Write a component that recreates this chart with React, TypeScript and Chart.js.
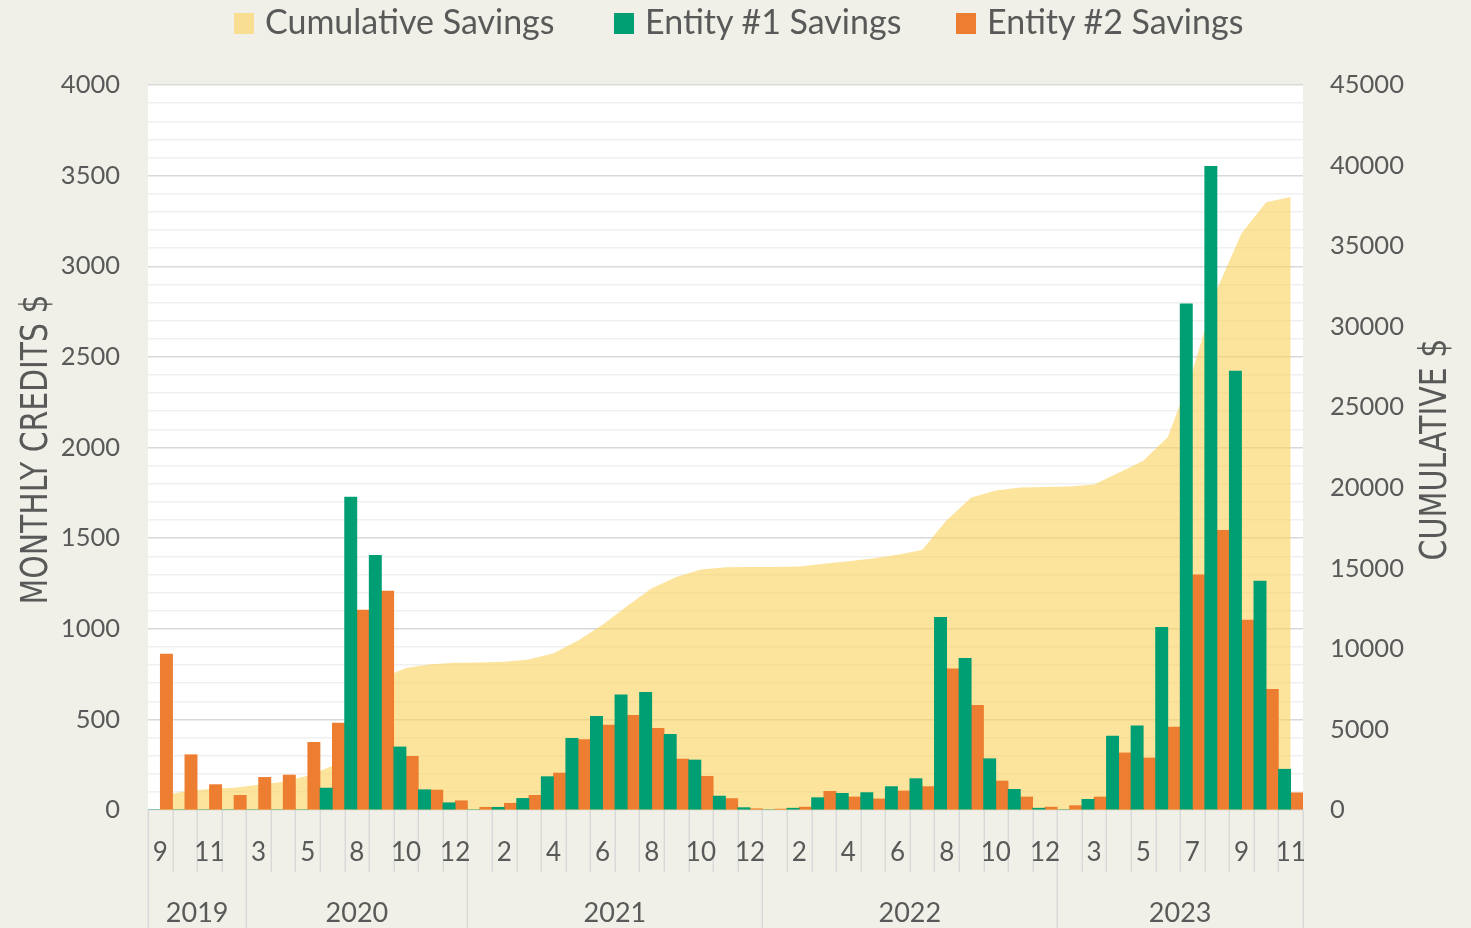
import React, { useEffect, useRef } from 'react';
import { Chart, registerables } from 'chart.js';

Chart.register(...registerables);

// ---------- DATA ----------
const monthLabels = [
  '9', '10', '11', '12',
  '3', '4', '5', '6', '8', '9', '10', '11', '12',
  '1', '2', '3', '4', '5', '6', '7', '8', '9', '10', '11', '12',
  '1', '2', '3', '4', '5', '6', '7', '8', '9', '10', '11', '12',
  '2', '3', '4', '5', '6', '7', '8', '9', '10', '11',
];

const yearLabels = ['2019', '2020', '2021', '2022', '2023'];
const yearMonthCounts = [4, 9, 12, 12, 10];

const entity1Savings = [
  0, 0, 0, 0,
  0, 0, 0, 121, 1727, 1405, 348, 112, 40,
  0, 15, 64, 184, 396, 517, 635, 649, 417, 276, 77, 13,
  0, 10, 68, 92, 96, 129, 173, 1063, 837, 283, 114, 10,
  0, 59, 408, 464, 1008, 2792, 3551, 2422, 1263, 225,
];

const entity2Savings = [
  860, 305, 140, 81,
  180, 193, 373, 480, 1103, 1208, 296, 110, 51,
  15, 37, 81, 204, 388, 469, 522, 451, 281, 186, 63, 7,
  5, 16, 103, 72, 61, 105, 129, 779, 577, 160, 72, 16,
  24, 72, 315, 287, 458, 1298, 1543, 1048, 666, 95,
];

const cumulativeSavings = [
  860, 1165, 1305, 1386,
  1566, 1759, 2132, 2733, 5563, 8176, 8820, 9042, 9133,
  9148, 9200, 9345, 9733, 10517, 11503, 12660, 13760, 14458, 14920, 15060, 15080,
  15085, 15111, 15282, 15446, 15603, 15837, 16139, 17981, 19395, 19838, 20024, 20050,
  20074, 20205, 20928, 21679, 23145, 27235, 32329, 35799, 37728, 38048,
];

const seriesNames = ['Cumulative Savings', 'Entity #1 Savings', 'Entity #2 Savings'];
const leftAxisTitle = 'MONTHLY CREDITS $';
const rightAxisTitle = 'CUMULATIVE $';

// ---------- STYLE ----------
const W = 1471;
const H = 928;
const BG = '#F0F0E8';
const TEXT = '#595959';
const GREEN = '#009E73';
const ORANGE = '#ED7D31';
const AREA = 'rgba(252, 210, 90, 0.6)';
const TICK_FONT = 'Lato, "Open Sans", sans-serif';
const TITLE_FONT = '"Liberation Sans Narrow", "DejaVu Sans Condensed", sans-serif';

const decorPlugin = {
  id: 'decor',
  beforeDraw(chart: any) {
    const { ctx, chartArea } = chart;
    ctx.save();
    ctx.fillStyle = '#FFFFFF';
    ctx.fillRect(chartArea.left, chartArea.top, chartArea.right - chartArea.left, chartArea.bottom - chartArea.top);
    ctx.restore();
  },
  afterDraw(chart: any) {
    const { ctx, chartArea } = chart;
    const x = chart.scales.x;
    const y0 = chartArea.bottom;
    const n = monthLabels.length;
    ctx.save();
    const yearBounds = new Set<number>();
    let acc = 0;
    yearBounds.add(0);
    yearMonthCounts.forEach((c) => { acc += c; yearBounds.add(acc); });
    ctx.strokeStyle = '#D9D9D9';
    ctx.lineWidth = 1.5;
    for (let i = 0; i <= n; i++) {
      const px = Math.round(x.getPixelForValue(i - 0.5)) + 0.25;
      ctx.beginPath();
      ctx.moveTo(px, y0);
      ctx.lineTo(px, yearBounds.has(i) ? H : y0 + 62);
      ctx.stroke();
    }
    // month labels
    ctx.fillStyle = TEXT;
    ctx.font = `26px ${TICK_FONT}`;
    ctx.textAlign = 'center';
    ctx.textBaseline = 'middle';
    monthLabels.forEach((m, i) => {
      if (i % 2 === 0) ctx.fillText(m, x.getPixelForValue(i), y0 + 43);
    });
    // year labels
    ctx.font = `27px ${TICK_FONT}`;
    let start = 0;
    yearLabels.forEach((yl, k) => {
      const end = start + yearMonthCounts[k];
      const a = x.getPixelForValue(start - 0.5);
      const b = x.getPixelForValue(end - 0.5);
      ctx.fillText(yl, (a + b) / 2, y0 + 103);
      start = end;
    });
    // axis titles (condensed)
    ctx.font = `37px ${TITLE_FONT}`;
    ctx.textBaseline = 'alphabetic';
    const midY = (chartArea.top + chartArea.bottom) / 2;
    const drawTitle = (text: string, cx: number, cy: number, targetLen: number) => {
      const w = ctx.measureText(text).width;
      const sx = Math.min(1, targetLen / w);
      ctx.save();
      ctx.translate(cx, cy);
      ctx.rotate(-Math.PI / 2);
      ctx.scale(sx, 1);
      ctx.fillText(text, 0, 0);
      ctx.restore();
    };
    drawTitle(leftAxisTitle, 47, midY + 2, 310);
    drawTitle(rightAxisTitle, 1446, midY + 2, 222);
    ctx.restore();
  },
};

export default function App() {
  const canvasRef = useRef<HTMLCanvasElement | null>(null);

  useEffect(() => {
    document.body.style.margin = '0';
    const canvas = canvasRef.current;
    if (!canvas) return;
    const chart = new Chart(canvas, {
      data: {
        labels: monthLabels,
        datasets: [
          {
            type: 'line',
            label: seriesNames[0],
            data: cumulativeSavings,
            yAxisID: 'y1',
            fill: 'origin',
            backgroundColor: AREA,
            borderColor: 'rgba(0,0,0,0)',
            borderWidth: 0,
            pointRadius: 0,
            tension: 0,
            order: 2,
          },
          {
            type: 'bar',
            label: seriesNames[1],
            data: entity1Savings,
            yAxisID: 'y',
            backgroundColor: GREEN,
            categoryPercentage: 1,
            barPercentage: 1,
            order: 1,
          },
          {
            type: 'bar',
            label: seriesNames[2],
            data: entity2Savings,
            yAxisID: 'y',
            backgroundColor: ORANGE,
            categoryPercentage: 1,
            barPercentage: 1,
            order: 1,
          },
        ],
      } as any,
      options: {
        responsive: false,
        animation: false,
        devicePixelRatio: 1,
        layout: { padding: { top: 85, left: 0, right: 0, bottom: 0 } },
        plugins: { legend: { display: false }, tooltip: { enabled: false } },
        scales: {
          x: {
            type: 'category',
            offset: true,
            ticks: { display: false },
            grid: { display: false },
            border: { display: false },
            afterFit: (s: any) => { s.height = 118; },
          },
          y: {
            position: 'left',
            min: 0,
            max: 4000,
            ticks: {
              stepSize: 100,
              autoSkip: false,
              padding: 28,
              color: TEXT,
              font: { family: TICK_FONT, size: 25.5 },
              callback: (v: any) => (Number(v) % 500 === 0 ? String(v) : ''),
            },
            grid: {
              drawTicks: false,
              lineWidth: 1.5,
              color: (c: any) => (c.tick && c.tick.value % 500 === 0 ? '#D9D9D9' : '#F0F0F0'),
            },
            border: { display: false },
            afterFit: (s: any) => { s.width = 148; },
          },
          y1: {
            position: 'right',
            min: 0,
            max: 45000,
            ticks: {
              stepSize: 5000,
              autoSkip: false,
              padding: 27,
              color: TEXT,
              font: { family: TICK_FONT, size: 25.5 },
              callback: (v: any) => String(v),
            },
            grid: { drawOnChartArea: false, drawTicks: false },
            border: { display: false },
            afterFit: (s: any) => { s.width = 168; },
          },
        },
      } as any,
      plugins: [decorPlugin],
    });
    return () => chart.destroy();
  }, []);

  const legendItems = [
    { name: seriesNames[0], color: AREA, sq: 234, tx: 265 },
    { name: seriesNames[1], color: GREEN, sq: 614, tx: 645 },
    { name: seriesNames[2], color: ORANGE, sq: 956, tx: 987 },
  ];

  return (
    <div style={{ position: 'relative', width: W, height: H, background: BG, overflow: 'hidden' }}>
      <canvas ref={canvasRef} width={W} height={H} style={{ position: 'absolute', left: 0, top: 0, width: W, height: H }} />
      {legendItems.map((it) => (
        <React.Fragment key={it.name}>
          <div style={{ position: 'absolute', left: it.sq, top: 13, width: 20, height: 21, background: it.color }} />
          <div
            style={{
              position: 'absolute',
              left: it.tx,
              top: -2,
              height: 46,
              lineHeight: '46px',
              fontFamily: TICK_FONT,
              fontSize: 34,
              color: TEXT,
              whiteSpace: 'nowrap',
            }}
          >
            {it.name}
          </div>
        </React.Fragment>
      ))}
    </div>
  );
}
